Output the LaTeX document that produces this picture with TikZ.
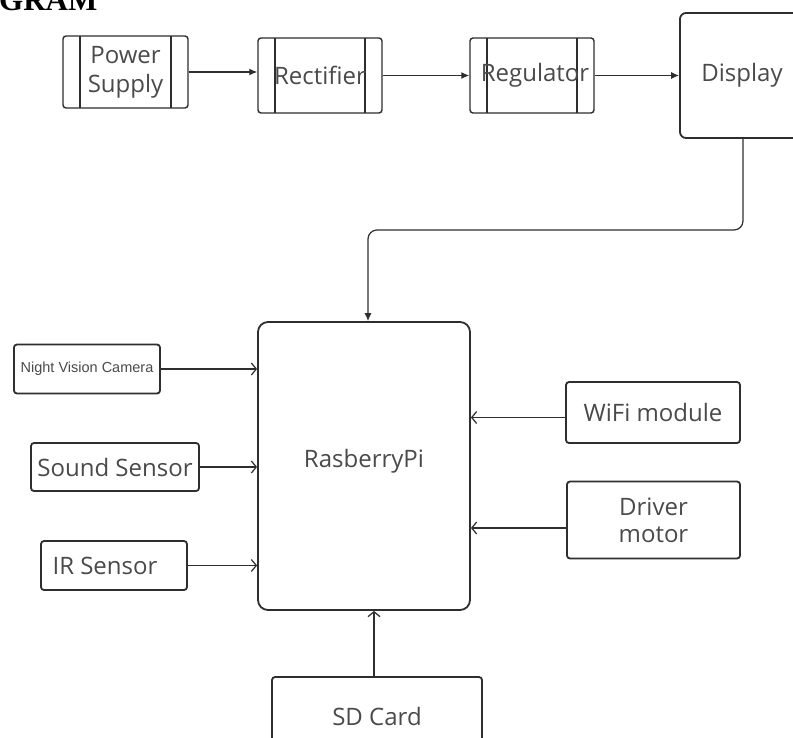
\documentclass[tikz,border=0pt]{standalone}
\usepackage{fontspec}
\setmainfont{Open Sans}
\newfontfamily\headfont{Liberation Serif}
\newfontfamily\smallfont{Liberation Sans}
\usetikzlibrary{arrows.meta, positioning}

\definecolor{edgegray}{HTML}{2E2E2E}
\definecolor{txtgray}{HTML}{4A4A4A}

\begin{document}
\begin{tikzpicture}[
    x=1pt, y=-1pt,
    block/.style={draw=edgegray, line width=1.8pt, rounded corners=3pt, fill=white, align=center,
                  text=txtgray, font=\fontsize{24}{29}\selectfont, inner sep=0pt},
    process/.style={block, line width=1.4pt,
        path picture={
            \draw[edgegray, line width=1.2pt] ([xshift=17pt]path picture bounding box.north west) -- ([xshift=17pt]path picture bounding box.south west);
            \draw[edgegray, line width=1.2pt] ([xshift=-17pt]path picture bounding box.north east) -- ([xshift=-17pt]path picture bounding box.south east);
        }},
    feed/.style={-{Latex[length=8pt,width=7pt]}, draw=edgegray, line width=1.2pt},
    input/.style={-{Straight Barb[length=5pt,width=12pt]}, draw=edgegray, line width=1.2pt}
]
    \useasboundingbox (0,0) rectangle (793,737);
    \clip (0,0) rectangle (793,737);

    % heading, cut off at the top
    \node[anchor=base west, inner sep=0pt, font=\headfont\bfseries\fontsize{31}{31}\selectfont] (title) at (-1,10) {GRAM};

    % -- power chain (top row) --
    \node[process, minimum width=125, minimum height=72] (power) at (125.5,72) {Power\\Supply};
    \node[process, minimum width=124, minimum height=75] (rect) at (320,75.5) {Rectifier};
    \node[process, minimum width=124, minimum height=75] (reg) at (532,75.5) {\hspace*{6pt}\raisebox{6pt}{Regulator}};
    \node[block, minimum width=124, minimum height=125, rounded corners=6pt] (disp) at (742,75.5) {\raisebox{-4pt}{Display}};

    % -- controller --
    \node[block, minimum width=212, minimum height=288, rounded corners=10pt] (rpi) at (364,466) {\raisebox{16pt}{RasberryPi}};

    % -- inputs, left side --
    \node[block, minimum width=146, minimum height=49, font=\smallfont\fontsize{14.5}{17}\selectfont] (cam) at (87,369) {Night Vision Camera};
    \node[block, minimum width=168, minimum height=48] (sound) at (115,467) {Sound Sensor};
    \node[block, minimum width=146, minimum height=49] (ir) at (114,565.5) {IR Sensor\hspace*{18pt}};

    % -- inputs, right side --
    \node[block, minimum width=174, minimum height=61] (wifi) at (653,412.5) {WiFi module};
    \node[block, minimum width=173, minimum height=77] (driver) at (653.5,520) {Driver\\[-2pt]motor};

    % -- storage (bottom, cut off) --
    \node[block, minimum width=210, minimum height=86] (sd) at (377,720) {\raisebox{7pt}{SD Card}};

    % -- connectors: power chain --
    \draw[feed] (power.east) -- (power.east -| rect.west);
    \draw[feed] (rect.east) -- (rect.east -| reg.west);
    \draw[feed] (reg.east) -- (reg.east -| disp.west);
    \draw[feed, rounded corners=9pt] ([xshift=1pt]disp.south) -- ([xshift=1pt]disp.south |- 0,230) -- ([xshift=4pt]rpi.north |- 0,230) -- ([xshift=4pt]rpi.north);

    % -- connectors: inputs --
    \draw[input] (cam.east) -- (cam.east -| rpi.west);
    \draw[input] (sound.east) -- (sound.east -| rpi.west);
    \draw[input] (ir.east) -- (ir.east -| rpi.west);
    \draw[input] ([yshift=-5pt]wifi.west) -- ([yshift=-5pt]wifi.west -| rpi.east);
    \draw[input] ([yshift=-8pt]driver.west) -- ([yshift=-8pt]driver.west -| rpi.east);
    \draw[input] ([xshift=-3pt]sd.north) -- ([xshift=-3pt]sd.north |- rpi.south);

\end{tikzpicture}
\end{document}
